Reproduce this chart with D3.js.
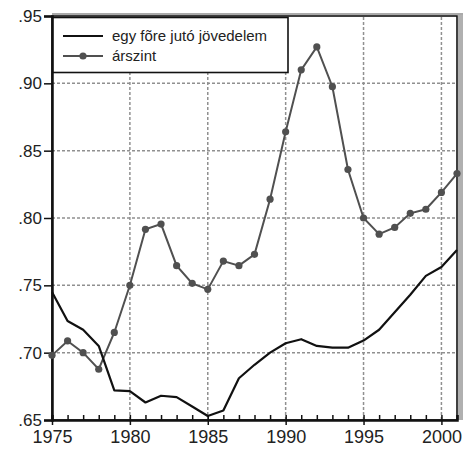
<!DOCTYPE html>
<html>
<head>
<meta charset="utf-8">
<script src="https://cdn.jsdelivr.net/npm/d3@7"></script>
<style>
  body { margin: 0; background: #fff; }
  svg { display: block; font-family: 'Liberation Sans', Arial, sans-serif; }
</style>
</head>
<body>
<script>
// years on the x axis
const years = d3.range(1975, 2002);

// egy főre jutó jövedelem (black line)
const income = [
  0.745, 0.7235, 0.717, 0.705, 0.672, 0.6715, 0.663, 0.668, 0.667, 0.660,
  0.653, 0.657, 0.681, 0.691, 0.700, 0.707, 0.710, 0.705, 0.7037, 0.7037,
  0.709, 0.717, 0.730, 0.743, 0.757, 0.7636, 0.7763
];

// árszint (gray line with dots)
const prices = [
  0.698, 0.7087, 0.700, 0.6877, 0.715, 0.750, 0.7916, 0.7955, 0.7646, 0.7515,
  0.747, 0.768, 0.7646, 0.773, 0.814, 0.864, 0.910, 0.927, 0.8975, 0.836,
  0.800, 0.788, 0.793, 0.8035, 0.8065, 0.819, 0.833
];

const yTicks = [0.65, 0.70, 0.75, 0.80, 0.85, 0.90, 0.95];
const xTicks = [1975, 1980, 1985, 1990, 1995, 2000];
const legendLabels = ['egy fõre jutó jövedelem', 'árszint'];

const width = 463;
const height = 453;
const margin = { top: 16, right: 6, bottom: 33, left: 52 };

const svg = d3.select('body')
  .append('svg')
  .attr('width', width)
  .attr('height', height);

const x = d3.scaleLinear()
  .domain([1975, 2001])
  .range([margin.left, width - margin.right]);

const y = d3.scaleLinear()
  .domain([0.65, 0.95])
  .range([height - margin.bottom, margin.top]);

const fmt = (d) => d3.format('.2f')(d).replace(/^0/, '');

// dashed grid
svg.append('g')
  .selectAll('line')
  .data(yTicks.filter((d) => d > 0.65 && d < 0.95))
  .enter()
  .append('line')
  .attr('x1', x(1975))
  .attr('x2', x(2001))
  .attr('y1', (d) => y(d))
  .attr('y2', (d) => y(d))
  .attr('stroke', '#909090')
  .attr('stroke-width', 1.5)
  .attr('stroke-dasharray', '3,2');

svg.append('g')
  .selectAll('line')
  .data(xTicks.filter((d) => d > 1975))
  .enter()
  .append('line')
  .attr('x1', (d) => x(d))
  .attr('x2', (d) => x(d))
  .attr('y1', y(0.65))
  .attr('y2', y(0.95))
  .attr('stroke', '#909090')
  .attr('stroke-width', 1.5)
  .attr('stroke-dasharray', '3,2');

// frame shadow (top and right)
svg.append('rect')
  .attr('x', x(2001) + 1)
  .attr('y', y(0.95) - 2)
  .attr('width', 5)
  .attr('height', y(0.65) - y(0.95) + 2)
  .attr('fill', '#b0b0b0');

svg.append('line')
  .attr('x1', x(1975))
  .attr('x2', x(2001) + 6)
  .attr('y1', y(0.95) - 2)
  .attr('y2', y(0.95) - 2)
  .attr('stroke', '#aaa')
  .attr('stroke-width', 2);

// frame
svg.append('rect')
  .attr('x', x(1975))
  .attr('y', y(0.95))
  .attr('width', x(2001) - x(1975))
  .attr('height', y(0.65) - y(0.95))
  .attr('fill', 'none')
  .attr('stroke', '#111')
  .attr('stroke-width', 1.6);

// left axis
const yAxis = d3.axisLeft(y)
  .tickValues(yTicks)
  .tickFormat(fmt)
  .tickSize(8)
  .tickPadding(2);

const gy = svg.append('g')
  .attr('transform', `translate(${margin.left},0)`)
  .call(yAxis);
gy.select('.domain').attr('stroke', '#111').attr('stroke-width', 2.5);
gy.selectAll('.tick line').attr('stroke', '#111').attr('stroke-width', 1.5);
gy.selectAll('.tick text')
  .attr('fill', '#222')
  .style('font-size', '17px');

// bottom axis, minor ticks inside every year
const gx = svg.append('g')
  .attr('transform', `translate(0,${height - margin.bottom})`);

gx.call(d3.axisBottom(x).tickValues(years).tickSize(-5).tickFormat(''))
  .call((g) => g.select('.domain').attr('stroke', '#111').attr('stroke-width', 2.5));
gx.selectAll('.tick line').attr('stroke', '#111').attr('stroke-width', 1.5);

svg.append('g')
  .attr('transform', `translate(0,${height - margin.bottom})`)
  .call(d3.axisBottom(x).tickValues(xTicks).tickFormat(d3.format('d')).tickSize(5).tickPadding(5))
  .call((g) => g.select('.domain').remove())
  .call((g) => g.selectAll('.tick line').attr('stroke', '#111').attr('stroke-width', 1.5))
  .call((g) => g.selectAll('.tick text').attr('fill', '#222').style('font-size', '18px'));

// series
const line = d3.line()
  .x((d, i) => x(years[i]))
  .y((d) => y(d));

svg.append('path')
  .datum(prices)
  .attr('d', line)
  .attr('fill', 'none')
  .attr('stroke', '#505050')
  .attr('stroke-width', 2);

svg.append('g')
  .selectAll('circle')
  .data(prices)
  .enter()
  .append('circle')
  .attr('cx', (d, i) => x(years[i]))
  .attr('cy', (d) => y(d))
  .attr('r', 3.6)
  .attr('fill', '#505050');

svg.append('path')
  .datum(income)
  .attr('d', line)
  .attr('fill', 'none')
  .attr('stroke', '#111')
  .attr('stroke-width', 2.2)
  .attr('stroke-linejoin', 'round');

// legend
const lg = svg.append('g');

lg.append('rect')
  .attr('x', x(1975) + 1)
  .attr('y', y(0.95) + 1.5)
  .attr('width', 235)
  .attr('height', 55)
  .attr('fill', '#fff')
  .attr('stroke', '#111')
  .attr('stroke-width', 1.6);

legendLabels.forEach((label, i) => {
  const ly = 36 + i * 20;
  lg.append('line')
    .attr('x1', 63)
    .attr('x2', 103)
    .attr('y1', ly)
    .attr('y2', ly)
    .attr('stroke', i === 0 ? '#111' : '#505050')
    .attr('stroke-width', i === 0 ? 2.2 : 2);
  if (i === 1) {
    lg.append('circle')
      .attr('cx', 83)
      .attr('cy', ly)
      .attr('r', 3.6)
      .attr('fill', '#505050');
  }
  lg.append('text')
    .attr('x', 112)
    .attr('y', ly + 5)
    .attr('fill', '#222')
    .style('font-size', '15px')
    .text(label);
});
</script>
</body>
</html>
